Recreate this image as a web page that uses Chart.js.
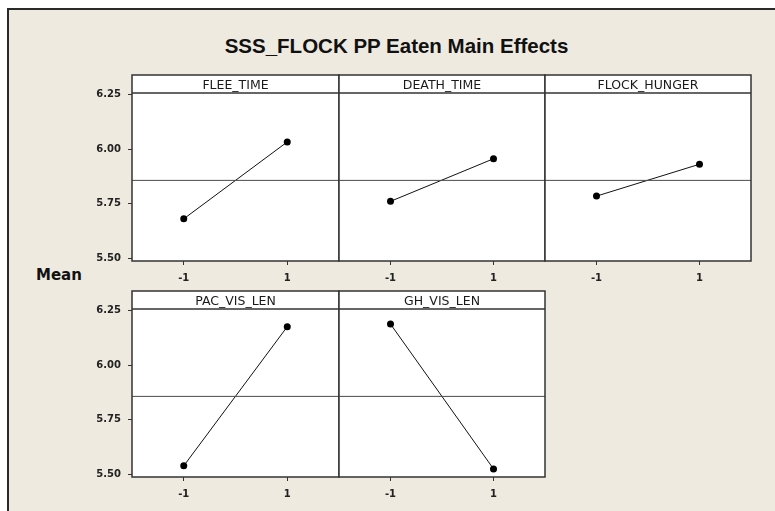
<!DOCTYPE html>
<html>
<head>
<meta charset="utf-8">
<script src="https://cdn.jsdelivr.net/npm/chart.js@4"></script>
<style>
  html, body { margin: 0; padding: 0; background: #fff; overflow: hidden; }
  #frame {
    position: absolute; left: 7px; top: 8px; width: 820px; height: 560px;
    border-left: 2px solid #2a2a2a; border-top: 2px solid #2a2a2a;
    background: #eeeae0;
  }
  #title {
    position: absolute; left: 396.5px; top: 35.6px; transform: translateX(-50%);
    font: bold 20.5px "Liberation Sans", Arial, sans-serif; line-height: 1; color: #111;
    white-space: nowrap;
  }
  #ylabel {
    position: absolute; left: 36px; top: 268px;
    font: bold 15px "DejaVu Sans", sans-serif; line-height: 1; color: #111;
  }
  canvas { position: absolute; }
</style>
</head>
<body>
<div id="frame"></div>
<div id="title">SSS_FLOCK PP Eaten Main Effects</div>
<div id="ylabel">Mean</div>
<script>
// data
var factorNames = ['FLEE_TIME', 'DEATH_TIME', 'FLOCK_HUNGER', 'PAC_VIS_LEN', 'GH_VIS_LEN']
var levels = [-1, 1]
var fleeTime = [5.681, 6.033]
var deathTime = [5.761, 5.956]
var flockHunger = [5.785, 5.931]
var pacVisLen = [5.539, 6.176]
var ghVisLen = [6.188, 5.525]
var grandMean = 5.857
var yTicks = [5.50, 5.75, 6.00, 6.25]
var xTicks = [-1, 1]

// layout
var ML = 60, MR = 4, MT = 4, MB = 30
var STRIP = 18, PLOT_H = 168
var colEdges = [132, 339, 545, 751]
var tickFont = { family: 'DejaVu Sans', size: 10, weight: 'bold' }

var panels = [
  { name: factorNames[0], means: fleeTime,    col: 0, top: 75,  yAxis: true },
  { name: factorNames[1], means: deathTime,   col: 1, top: 75,  yAxis: false },
  { name: factorNames[2], means: flockHunger, col: 2, top: 75,  yAxis: false },
  { name: factorNames[3], means: pacVisLen,   col: 0, top: 290.5, yAxis: true },
  { name: factorNames[4], means: ghVisLen,    col: 1, top: 290.5, yAxis: false }
]

var panelFrame = {
  id: 'panelFrame',
  beforeDraw: function (chart) {
    var a = chart.chartArea, ctx = chart.ctx
    ctx.save()
    ctx.fillStyle = '#ffffff'
    ctx.fillRect(a.left, a.top - STRIP, a.right - a.left, a.bottom - a.top + STRIP)
    ctx.restore()
  },
  afterDraw: function (chart) {
    var a = chart.chartArea, ctx = chart.ctx
    ctx.save()
    ctx.strokeStyle = '#333'
    ctx.lineWidth = 1.5
    ctx.strokeRect(a.left, a.top - STRIP, a.right - a.left, a.bottom - a.top + STRIP)
    ctx.beginPath()
    ctx.moveTo(a.left, a.top)
    ctx.lineTo(a.right, a.top)
    ctx.stroke()
    ctx.fillStyle = '#1a1a1a'
    ctx.font = '12.5px "DejaVu Sans"'
    ctx.textAlign = 'center'
    ctx.textBaseline = 'alphabetic'
    ctx.fillText(chart.options.plugins.panelFrame.label, (a.left + a.right) / 2, a.top - 4)
    ctx.restore()
  }
}

panels.forEach(function (p) {
  var left = colEdges[p.col], w = colEdges[p.col + 1] - left
  var cv = document.createElement('canvas')
  cv.width = ML + w + MR
  cv.height = MT + STRIP + PLOT_H + MB
  cv.style.left = (left - ML) + 'px'
  cv.style.top = (p.top - MT) + 'px'
  document.body.appendChild(cv)

  new Chart(cv.getContext('2d'), {
    type: 'scatter',
    data: {
      datasets: [{
        data: [{ x: -2, y: grandMean }, { x: 2, y: grandMean }],
        showLine: true,
        borderColor: '#4a4a4a',
        borderWidth: 1,
        pointRadius: 0
      }, {
        data: levels.map(function (x, i) { return { x: x, y: p.means[i] } }),
        showLine: true,
        borderColor: '#111',
        borderWidth: 1,
        pointRadius: 3.5,
        pointBackgroundColor: '#000',
        pointBorderWidth: 0
      }]
    },
    options: {
      responsive: false,
      animation: false,
      layout: { padding: { left: 0, right: MR, top: MT + STRIP, bottom: 0 } },
      plugins: {
        legend: { display: false },
        tooltip: { enabled: false },
        panelFrame: { label: p.name }
      },
      scales: {
        x: {
          type: 'linear', min: -2, max: 2,
          afterBuildTicks: function (s) { s.ticks = xTicks.map(function (v) { return { value: v } }) },
          afterFit: function (s) { s.height = MB },
          grid: { drawOnChartArea: false, drawTicks: true, tickLength: 4, color: '#333' },
          border: { display: false },
          ticks: { font: tickFont, color: '#222', padding: 7, callback: function (v) { return String(v) } }
        },
        y: {
          min: 5.488, max: 6.257,
          afterBuildTicks: function (s) { s.ticks = yTicks.map(function (v) { return { value: v } }) },
          afterFit: function (s) { s.width = ML },
          grid: { display: p.yAxis, drawOnChartArea: false, drawTicks: true, tickLength: 4, color: '#333' },
          border: { display: false },
          ticks: { display: p.yAxis, font: tickFont, color: '#222', padding: 7, callback: function (v) { return v.toFixed(2) } }
        }
      }
    },
    plugins: [panelFrame]
  })
})
</script>
</body>
</html>
